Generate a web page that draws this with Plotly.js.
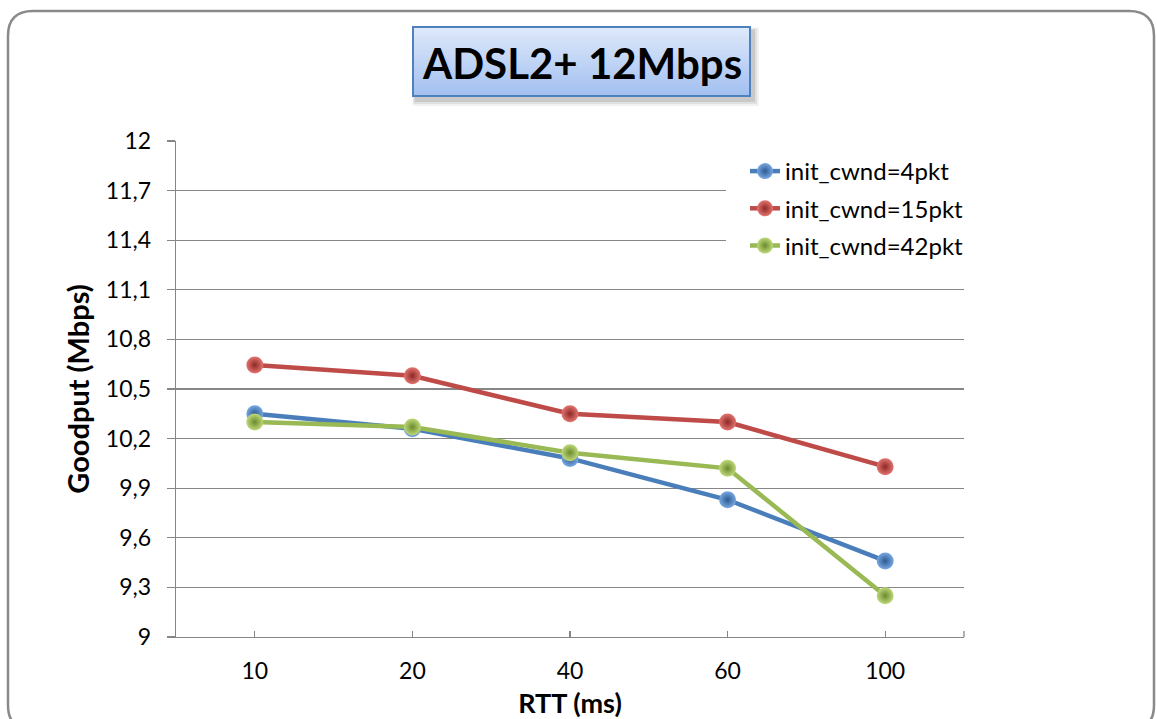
<!DOCTYPE html>
<html>
<head>
<meta charset="utf-8">
<script src="https://cdn.plot.ly/plotly-3.0.1.min.js"></script>
<style>
  html, body { margin: 0; padding: 0; background: #fff; }
  #chart { width: 1157px; height: 719px; }
</style>
</head>
<body>
<div id="chart"></div>
<script>
// RTT categories on the x axis
const rttLabels = ['10', '20', '40', '60', '100'];

// Goodput (Mbps) per initial congestion window
const goodput4pkt  = [10.35, 10.26, 10.08, 9.83, 9.46];
const goodput15pkt = [10.645, 10.58, 10.35, 10.30, 10.03];
const goodput42pkt = [10.30, 10.27, 10.115, 10.02, 9.25];

const seriesNames = ['init_cwnd=4pkt', 'init_cwnd=15pkt', 'init_cwnd=42pkt'];

// Y axis ticks, decimal comma
const yTickVals = [9, 9.3, 9.6, 9.9, 10.2, 10.5, 10.8, 11.1, 11.4, 11.7, 12];
const yTickText = ['9', '9,3', '9,6', '9,9', '10,2', '10,5', '10,8', '11,1', '11,4', '11,7', '12'];

const chartTitle = 'ADSL2+ 12Mbps';
const xTitle = 'RTT (ms)';
const yTitle = 'Goodput (Mbps)';

// ---- geometry helpers: page pixels -> paper coordinates ----
const W = 1157, H = 719;
const PL = 176, PR = 964, PT = 141, PB = 637;
const fx = x => (x - PL) / (PR - PL);
const fy = y => (PB - y) / (PB - PT);

function pathFrom(cmds) {
  // cmds: array of [letter, x1, y1, x2, y2 ...] in pixels
  return cmds.map(c => {
    const letter = c[0];
    const pts = [];
    for (let i = 1; i < c.length; i += 2) pts.push(fx(c[i]).toFixed(5) + ',' + fy(c[i + 1]).toFixed(5));
    return letter + pts.join(' ');
  }).join(' ') + ' Z';
}

const shapes = [];

// outer rounded frame
const fr = { l: 8, t: 11, r: 1154, b: 730, rad: 25 };
shapes.push({
  type: 'path', xref: 'paper', yref: 'paper', layer: 'below',
  path: pathFrom([
    ['M', fr.l, fr.t + fr.rad],
    ['Q', fr.l, fr.t, fr.l + fr.rad, fr.t],
    ['L', fr.r - fr.rad, fr.t],
    ['Q', fr.r, fr.t, fr.r, fr.t + fr.rad],
    ['L', fr.r, fr.b - fr.rad],
    ['Q', fr.r, fr.b, fr.r - fr.rad, fr.b],
    ['L', fr.l + fr.rad, fr.b],
    ['Q', fr.l, fr.b, fr.l, fr.b - fr.rad]
  ]),
  line: { color: '#8a8a8a', width: 2.5 },
  fillcolor: 'rgba(0,0,0,0)'
});

// title box: soft drop shadow
const tb = { l: 413, t: 27, r: 750, b: 96 };
[[7, 0.05], [5, 0.07], [3, 0.10]].forEach(([g, a]) => {
  shapes.push({
    type: 'rect', xref: 'paper', yref: 'paper', layer: 'above',
    x0: fx(tb.l + 3 - g / 2), x1: fx(tb.r + 2 + g), y0: fy(tb.t + 4 - g / 2), y1: fy(tb.b + 3 + g),
    fillcolor: 'rgba(0,0,0,' + a + ')', line: { width: 0 }
  });
});

// title box: vertical gradient made from thin bands
const gradTop = [222, 233, 251], gradBottom = [163, 192, 240];
const bands = 34;
for (let i = 0; i < bands; i++) {
  const t = i / (bands - 1);
  const c = gradTop.map((v, k) => Math.round(v + (gradBottom[k] - v) * t));
  const y0 = tb.t + (tb.b - tb.t) * i / bands;
  const y1 = tb.t + (tb.b - tb.t) * (i + 1) / bands;
  shapes.push({
    type: 'rect', xref: 'paper', yref: 'paper', layer: 'above',
    x0: fx(tb.l), x1: fx(tb.r), y0: fy(y0), y1: fy(y1 + 0.6),
    fillcolor: 'rgb(' + c.join(',') + ')', line: { width: 0 }
  });
}
shapes.push({
  type: 'rect', xref: 'paper', yref: 'paper', layer: 'above',
  x0: fx(tb.l), x1: fx(tb.r), y0: fy(tb.t), y1: fy(tb.b),
  fillcolor: 'rgba(0,0,0,0)', line: { color: '#4f81bd', width: 2 }
});

// small end tick at right of the category axis
shapes.push({
  type: 'line', xref: 'paper', yref: 'paper', layer: 'above',
  x0: 1, x1: 1, y0: 0, y1: fy(PB - 6),
  line: { color: '#868686', width: 1.3 }
});

// white area behind the legend
shapes.push({
  type: 'rect', xref: 'paper', yref: 'paper', layer: 'above',
  x0: fx(726), x1: fx(972), y0: fy(150), y1: fy(266),
  fillcolor: '#ffffff', line: { width: 0 }
});

const annotations = [{
  text: '<b>' + chartTitle + '</b>', xref: 'paper', yref: 'paper',
  x: fx((tb.l + tb.r) / 2), y: fy((tb.t + tb.b) / 2 + 1), xanchor: 'center', yanchor: 'middle',
  showarrow: false, font: { family: 'Lato, sans-serif', size: 42, color: '#000' }
}];

function series(name, y, lineColor, centerColor, edgeColor) {
  return {
    type: 'scatter', mode: 'lines+markers', name: name,
    x: rttLabels, y: y,
    line: { color: lineColor, width: 4.5 },
    marker: {
      size: 17, color: centerColor,
      gradient: { type: 'radial', color: edgeColor },
      line: { width: 0 }
    },
    legendgroup: name
  };
}

const data = [
  series(seriesNames[0], goodput4pkt, '#4a7ebb', '#78a8e2', '#2c5a92'),
  series(seriesNames[1], goodput15pkt, '#be4b48', '#e47470', '#8c2926'),
  series(seriesNames[2], goodput42pkt, '#98b954', '#bfd979', '#6b8a2f')
];

const layout = {
  width: W, height: H,
  margin: { l: PL, r: W - PR, t: PT, b: H - PB, pad: 0 },
  paper_bgcolor: '#ffffff', plot_bgcolor: '#ffffff',
  showlegend: true,
  legend: {
    x: fx(745), y: fy(149), xanchor: 'left', yanchor: 'top',
    bgcolor: 'rgba(255,255,255,0)', borderwidth: 0,
    font: { family: 'Lato, sans-serif', size: 24, color: '#000' },
    traceorder: 'grouped', tracegroupgap: 3, itemwidth: 30
  },
  xaxis: {
    type: 'category', range: [-0.5, 4.5],
    showline: true, linecolor: '#868686', linewidth: 1.3,
    ticks: 'inside', ticklen: 6, tickcolor: '#868686', tickwidth: 1.3,
    showgrid: false, zeroline: false,
    tickfont: { family: 'Lato, sans-serif', size: 23, color: '#000' },
    ticklabelstandoff: 13,
    title: { text: '<b>' + xTitle + '</b>', font: { family: 'Lato, sans-serif', size: 27, color: '#000' }, standoff: 11 }
  },
  yaxis: {
    range: [9, 12], tickvals: yTickVals, ticktext: yTickText,
    showline: true, linecolor: '#868686', linewidth: 1.3,
    ticks: 'outside', ticklen: 8, tickcolor: '#868686', tickwidth: 1.3,
    showgrid: true, gridcolor: '#868686', gridwidth: 1.2,
    zeroline: false,
    tickfont: { family: 'Lato, sans-serif', size: 23, color: '#000' },
    ticklabelstandoff: 11,
    title: { text: '<b>' + yTitle + '</b>', font: { family: 'Lato, sans-serif', size: 29, color: '#000' }, standoff: 7 }
  },
  shapes: shapes,
  annotations: annotations,
  hovermode: false
};

Plotly.newPlot('chart', data, layout, { displayModeBar: false, staticPlot: true });
</script>
</body>
</html>
